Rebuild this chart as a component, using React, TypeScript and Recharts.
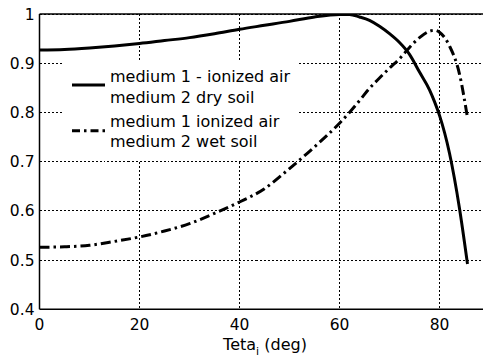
import {
  CartesianGrid,
  Legend,
  Line,
  LineChart,
  ReferenceLine,
  XAxis,
  YAxis,
} from "recharts";

// incidence angle (deg)
const teta = [
  0, 5, 10, 15, 20, 25, 30, 35, 40, 45, 50, 55, 60, 62, 64, 66, 68, 70, 72,
  74, 76, 78, 79, 80, 82, 84, 85.6,
];
const drySoil = [
  0.927, 0.928, 0.931, 0.935, 0.94, 0.946, 0.952, 0.96, 0.969, 0.977, 0.985,
  0.994, 0.999, 0.999, 0.994, 0.987, 0.975, 0.96, 0.942, 0.918, 0.882, 0.846,
  0.822, 0.794, 0.717, 0.605, 0.492,
];
const wetSoil = [
  0.526, 0.527, 0.53, 0.538, 0.547, 0.559, 0.574, 0.595, 0.618, 0.645, 0.686,
  0.73, 0.778, 0.8, 0.824, 0.849, 0.87, 0.89, 0.909, 0.932, 0.952, 0.965,
  0.967, 0.963, 0.935, 0.878, 0.789,
];
const xTicks = [0, 20, 40, 60, 80];
const yTicks = [0.4, 0.5, 0.6, 0.7, 0.8, 0.9, 1];
const dryLabel = ["medium 1 - ionized air", "medium 2 dry soil"];
const wetLabel = ["medium 1 ionized air", "medium 2 wet soil"];

const data = teta.map((t, i) => ({ teta: t, dry: drySoil[i], wet: wetSoil[i] }));

const font = "'DejaVu Sans', sans-serif";
const dashDot = "10 4 2.5 4";

function LegendBox() {
  return (
    <svg width={235} height={100} style={{ display: "block" }}>
      <line x1={9} x2={42} y1={25} y2={25} stroke="#000" strokeWidth={3} />
      <line
        x1={9}
        x2={42}
        y1={70.7}
        y2={70.7}
        stroke="#000"
        strokeWidth={3}
        strokeDasharray="8 4 2.5 4"
      />
      {[...dryLabel, ...wetLabel].map((s, i) => (
        <text
          key={s}
          x={47}
          y={[16, 37.3, 61.7, 81.7][i]}
          dominantBaseline="central"
          fontFamily={font}
          fontSize={16}
          fill="#000"
        >
          {s}
        </text>
      ))}
    </svg>
  );
}

export default function App() {
  return (
    <div style={{ width: 483, height: 358, background: "#fff" }}>
      <style>{`body{margin:0}`}</style>
      <LineChart
        width={483}
        height={358}
        data={data}
        margin={{ top: 14, right: 0, bottom: 0, left: 0 }}
      >
        <CartesianGrid
          stroke="#000"
          strokeDasharray="2 2"
          strokeWidth={1}
          shapeRendering="crispEdges"
          horizontalValues={yTicks}
          verticalValues={xTicks}
        />
        <XAxis
          dataKey="teta"
          type="number"
          domain={[0, 88.7]}
          ticks={xTicks}
          allowDataOverflow
          height={48.7}
          tickSize={0}
          tickMargin={10}
          axisLine={{ stroke: "#000", strokeWidth: 1.5 }}
          tick={{ fill: "#000", fontFamily: font, fontSize: 15.5 }}
          label={{
            content: () => (
              <text
                x={265}
                y={350}
                textAnchor="middle"
                fontFamily={font}
                fontSize={16}
                fill="#000"
              >
                Teta
                <tspan fontSize={11} dy={5}>
                  i
                </tspan>
                <tspan dy={-5}> (deg)</tspan>
              </text>
            ),
          }}
        />
        <YAxis
          type="number"
          domain={[0.4, 1]}
          ticks={yTicks}
          allowDataOverflow
          width={39.5}
          tickSize={0}
          tickMargin={5}
          axisLine={{ stroke: "#000", strokeWidth: 1.5 }}
          tick={{ fill: "#000", fontFamily: font, fontSize: 15.5 }}
          tickFormatter={(v: number) => (v === 1 ? "1" : v.toFixed(1))}
        />
        <ReferenceLine y={1} stroke="#000" strokeWidth={1.5} />
        <Legend
          layout="horizontal"
          verticalAlign="middle"
          align="center"
          wrapperStyle={{
            left: 63,
            top: 60,
            width: 235,
            height: 100,
            background: "#fff",
          }}
          content={() => <LegendBox />}
        />
        <Line
          dataKey="dry"
          type="monotone"
          stroke="#000"
          strokeWidth={3}
          dot={false}
          isAnimationActive={false}
        />
        <Line
          dataKey="wet"
          type="monotone"
          stroke="#000"
          strokeWidth={3}
          strokeDasharray={dashDot}
          dot={false}
          isAnimationActive={false}
        />
      </LineChart>
    </div>
  );
}
